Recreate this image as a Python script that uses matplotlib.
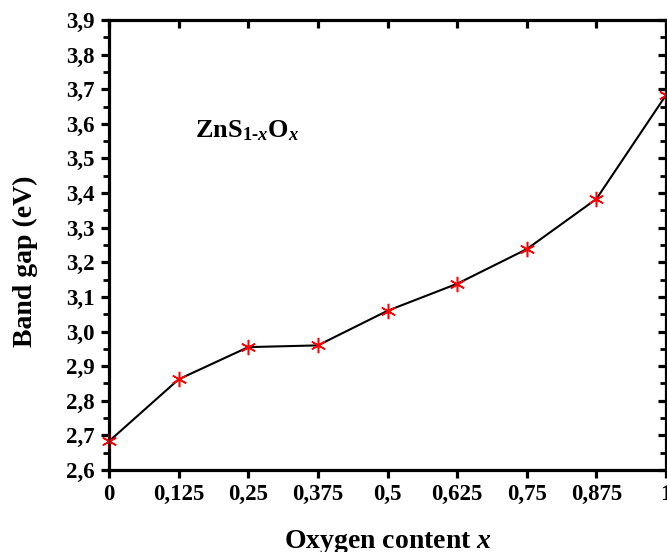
import matplotlib
matplotlib.use("Agg")
import matplotlib.pyplot as plt
from matplotlib.ticker import MultipleLocator

plt.rcParams['font.family'] = 'Liberation Serif'
plt.rcParams['font.weight'] = 'bold'
plt.rcParams['mathtext.fontset'] = 'custom'
plt.rcParams['mathtext.rm'] = 'Liberation Serif:bold'
plt.rcParams['mathtext.it'] = 'Liberation Serif:italic:bold'
plt.rcParams['mathtext.bf'] = 'Liberation Serif:bold'

x_vals = [0, 0.125, 0.25, 0.375, 0.5, 0.625, 0.75, 0.875, 1.0]
band_gap = [2.683, 2.862, 2.955, 2.960, 3.060, 3.138, 3.238, 3.383, 3.683]
x_tick_labels = ['0', '0,125', '0,25', '0,375', '0,5', '0,625', '0,75', '0,875', '1']
y_ticks = [2.6, 2.7, 2.8, 2.9, 3.0, 3.1, 3.2, 3.3, 3.4, 3.5, 3.6, 3.7, 3.8, 3.9]
y_tick_labels = ['2,6', '2,7', '2,8', '2,9', '3,0', '3,1', '3,2', '3,3', '3,4',
                 '3,5', '3,6', '3,7', '3,8', '3,9']

W, H = 667, 552
fig = plt.figure(figsize=(W/100, H/100), dpi=100)
ax = fig.add_axes([109/W, 1-470/H, (666-109)/W, (470-20)/H])

ax.plot(x_vals, band_gap, color='black', lw=1.5, zorder=2, clip_on=False)
ax.plot(x_vals, band_gap, ls='none', marker=(6, 2, 0), ms=11, mec='red',
        mew=1.1, zorder=3, clip_on=False)

ax.set_xlim(0, 1)
ax.set_ylim(2.6, 3.9)
ax.set_xticks(x_vals)
ax.set_xticklabels(x_tick_labels)
ax.set_yticks(y_ticks)
ax.set_yticklabels(y_tick_labels)
ax.yaxis.set_minor_locator(MultipleLocator(0.05))

for s in ax.spines.values():
    s.set_linewidth(2.3)

ax.tick_params(axis='both', which='major', labelsize=16.5, width=2.3, length=6, pad=4)
ax.tick_params(axis='y', which='minor', width=2.0, length=4)
ax.tick_params(axis='x', which='both', direction='out', top=False)
ax.tick_params(axis='y', which='both', direction='out', right=False)

axt = ax.twiny()
axt.set_xlim(0, 1)
axt.set_xticks(x_vals)
axt.tick_params(axis='x', direction='in', width=2.3, length=6, labeltop=False)
axr = ax.twinx()
axr.set_ylim(2.6, 3.9)
axr.set_yticks(y_ticks)
axr.yaxis.set_minor_locator(MultipleLocator(0.05))
axr.tick_params(axis='y', which='major', direction='in', width=2.3, length=6, labelright=False)
axr.tick_params(axis='y', which='minor', direction='in', width=2.0, length=4)

for lab in ax.get_xticklabels() + ax.get_yticklabels():
    lab.set_fontweight('bold')

ax.set_xlabel(r'Oxygen content $x$', fontsize=20, fontweight='bold')
ax.xaxis.set_label_coords((388-109)/(666-109), (470-548)/(470-20))
ax.xaxis.label.set_va('baseline')
ax.set_ylabel('Band gap (eV)', fontsize=20, fontweight='bold')
ax.yaxis.set_label_coords((25-109)/(666-109), (470-261)/(470-20))
ax.yaxis.label.set_va('center')

ax.text(0.155, 3.58, r'ZnS$_{1\text{-}x}$O$_{x}$', fontsize=19, fontweight='bold',
        ha='left', va='center')

fig.savefig('out.png', dpi=100)
